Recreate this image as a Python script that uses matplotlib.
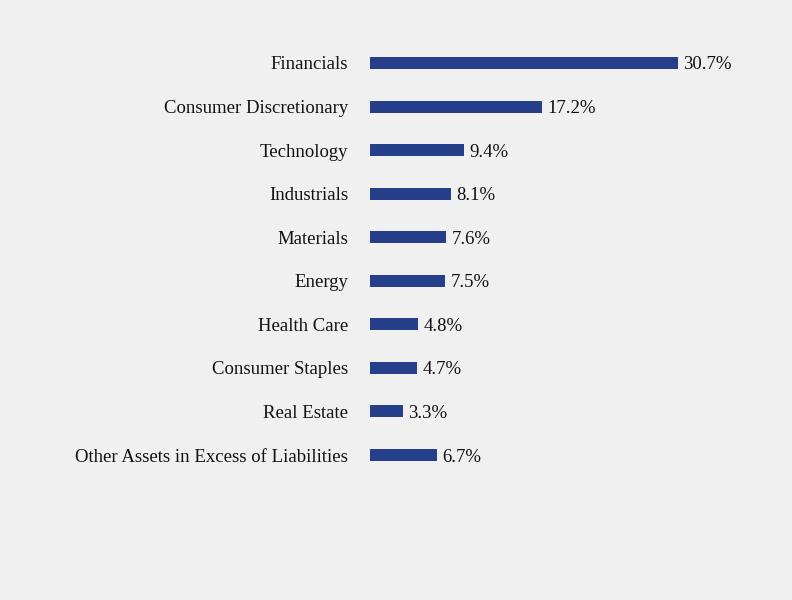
import matplotlib
matplotlib.use("Agg")
from matplotlib import pyplot as plt

categories = ["Financials", "Consumer Discretionary", "Technology", "Industrials",
              "Materials", "Energy", "Health Care", "Consumer Staples", "Real Estate",
              "Other Assets in Excess of Liabilities"]
values = [30.7, 17.2, 9.4, 8.1, 7.6, 7.5, 4.8, 4.7, 3.3, 6.7]
value_labels = ["30.7%", "17.2%", "9.4%", "8.1%", "7.6%", "7.5%", "4.8%", "4.7%", "3.3%", "6.7%"]

plt.rcParams['font.family'] = ['Liberation Serif', 'DejaVu Serif']

bg = "#F0F0F0"
bar_color = "#263F8A"
txt = "#111111"

fig = plt.figure(figsize=(7.92, 6.0), dpi=100, facecolor=bg)
# axes placed in pixels: left 370, width 401, top 41.2, bottom 476.8
ax = fig.add_axes([370 / 792, (600 - 476.8) / 600, 401 / 792, 435.6 / 600])
ax.set_facecolor(bg)

pos = list(range(len(categories)))
ax.barh(pos, values, height=0.275, color=bar_color)
ax.set_xlim(0, 40)
ax.set_ylim(len(categories) - 0.5, -0.5)

for p, v, lab in zip(pos, values, value_labels):
    ax.annotate(lab, (v, p), xytext=(3.8, 0), textcoords="offset points",
                ha="left", va="center_baseline", fontsize=13.5, color=txt)

ax.set_yticks(pos)
ax.set_yticklabels(categories, fontsize=13.5, color=txt, va="center_baseline")
ax.tick_params(axis="y", length=0, pad=15.8)
ax.set_xticks([])
for s in ax.spines.values():
    s.set_visible(False)

fig.savefig("out.png", dpi=100, facecolor=bg)
